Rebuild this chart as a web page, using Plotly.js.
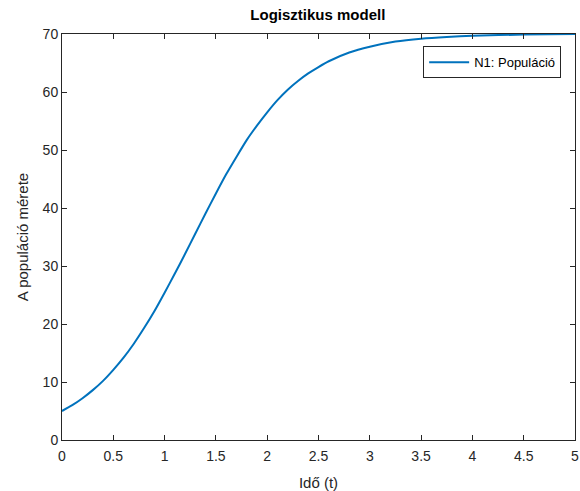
<!DOCTYPE html>
<html>
<head>
<meta charset="utf-8">
<script src="https://cdn.plot.ly/plotly-3.0.1.min.js"></script>
<style>html,body{margin:0;padding:0;background:#fff;}#chart{width:580px;height:491px;}</style>
</head>
<body>
<div id="chart"></div>
<script>
var timeValues = [0, 0.1, 0.2, 0.3, 0.4, 0.5, 0.6, 0.7, 0.8, 0.9, 1.0, 1.1, 1.2, 1.3, 1.4, 1.5, 1.6, 1.7, 1.8, 1.9, 2.0, 2.1, 2.2, 2.3, 2.4, 2.5, 2.6, 2.8, 3.0, 3.25, 3.5, 3.75, 4.0, 4.5, 5.0];
var populationValues = [5.0, 6.0, 7.2, 8.6, 10.2, 12.1, 14.2, 16.6, 19.3, 22.2, 25.4, 28.7, 32.1, 35.6, 39.1, 42.5, 45.8, 48.8, 51.7, 54.2, 56.5, 58.6, 60.4, 61.9, 63.2, 64.3, 65.3, 66.8, 67.8, 68.7, 69.2, 69.5, 69.7, 69.9, 70.0];
var seriesName = 'N1: Populáció';
var xTickValues = [0, 0.5, 1, 1.5, 2, 2.5, 3, 3.5, 4, 4.5, 5];
var xTickLabels = ['0', '0.5', '1', '1.5', '2', '2.5', '3', '3.5', '4', '4.5', '5'];
var yTickValues = [0, 10, 20, 30, 40, 50, 60, 70];

var trace = {
  x: timeValues,
  y: populationValues,
  type: 'scatter',
  mode: 'lines',
  name: seriesName,
  line: {color: '#0072BD', width: 2, shape: 'spline', smoothing: 0.6}
};

var axisCommon = {
  showgrid: false,
  zeroline: false,
  showline: true,
  linecolor: '#262626',
  linewidth: 1,
  mirror: 'ticks',
  ticks: 'inside',
  ticklen: 5,
  tickwidth: 1,
  tickcolor: '#262626',
  tickfont: {family: 'Liberation Sans, Arial, sans-serif', size: 14, color: '#262626'}
};

var layout = {
  width: 580,
  height: 491,
  margin: {l: 62, r: 5, t: 34, b: 51},
  paper_bgcolor: '#ffffff',
  plot_bgcolor: '#ffffff',
  showlegend: true,
  title: {
    text: '<b>Logisztikus modell</b>',
    font: {family: 'Liberation Sans, Arial, sans-serif', size: 15, color: '#000000'},
    x: 0.548, xanchor: 'center', y: 0.97, yanchor: 'middle'
  },
  xaxis: Object.assign({}, axisCommon, {
    range: [0, 5],
    tickvals: xTickValues,
    ticktext: xTickLabels,
    ticklabelstandoff: 3,
    title: {text: 'Idő (t)', font: {family: 'Liberation Sans, Arial, sans-serif', size: 15, color: '#262626'}, standoff: 14}
  }),
  yaxis: Object.assign({}, axisCommon, {
    range: [0, 70],
    tickvals: yTickValues,
    title: {text: 'A populáció mérete', font: {family: 'Liberation Sans, Arial, sans-serif', size: 15, color: '#262626'}, standoff: 10}
  }),
  legend: {
    x: 0.973, xanchor: 'right',
    y: 0.97, yanchor: 'top',
    bgcolor: '#ffffff',
    bordercolor: '#262626',
    borderwidth: 1,
    itemwidth: 40,
    font: {family: 'Liberation Sans, Arial, sans-serif', size: 13, color: '#000000'}
  }
};

Plotly.newPlot('chart', [trace], layout, {displayModeBar: false, staticPlot: true});
</script>
</body>
</html>
